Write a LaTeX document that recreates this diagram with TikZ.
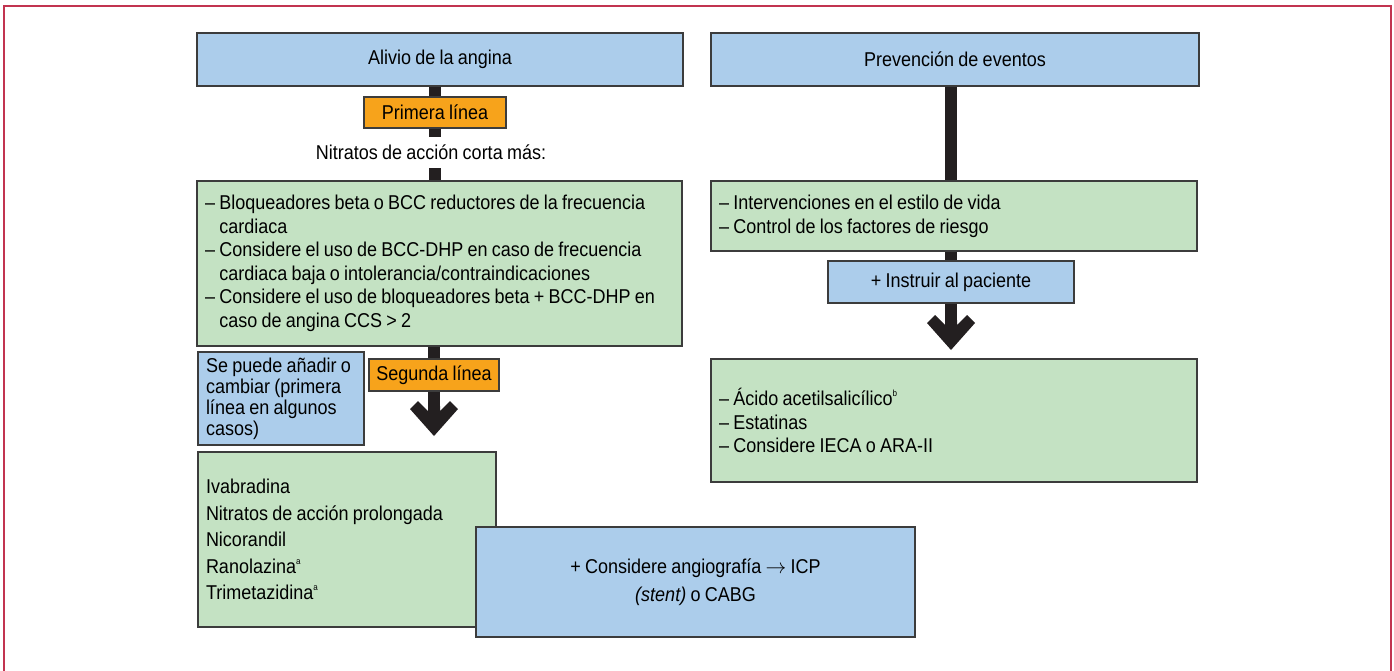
\documentclass[tikz,border=0pt]{standalone}
\usepackage{fontspec}
\setmainfont{Liberation Sans}[FakeStretch=0.9,WordSpace=0.85]
\definecolor{frameC}{RGB}{194,52,80}
\definecolor{blueC}{RGB}{172,205,235}
\definecolor{greenC}{RGB}{196,226,195}
\definecolor{orangeC}{RGB}{247,163,27}
\definecolor{stemC}{RGB}{35,31,32}
\definecolor{edgeC}{RGB}{60,60,60}
\newcommand\fsz[1]{\fontsize{20}{#1}\selectfont}
\newcommand\supr[1]{\raisebox{9pt}{\fontsize{9}{9}\selectfont #1}}
\begin{document}
\begin{tikzpicture}[x=1pt,y=-1pt,
  box/.style={draw=edgeC,line width=1.3pt,inner sep=0pt,align=center,font=\fsz{23.5}},
  bluebox/.style={box,fill=blueC},
  greenbox/.style={box,fill=greenC},
  orangebox/.style={box,fill=orangeC},
  listbox/.style={inner xsep=8pt,inner ysep=0pt,align=flush left},
  stem/.style={draw=stemC,line width=12.5pt},
  framestyle/.style={draw=frameC,line width=1.6pt},
  pics/chevron/.style={code={\fill[stemC] (0,0) -- (-24,-27) -- (-16,-35) -- (-6,-25) -- (-6,-30) -- (6,-30) -- (6,-25) -- (16,-35) -- (24,-27) -- cycle;}}]
\useasboundingbox (0,0) rectangle (1394,670);
\draw[framestyle] (4,672) -- (4,6) -- (1391,6) -- (1391,672);

% left column
\node[bluebox,minimum width=486pt,minimum height=53pt] (alivio) at (440,59.5) {Alivio de la angina};
\node[orangebox,minimum width=142pt,minimum height=31pt] (primera) at (435,112.5) {Primera línea};
\node[font=\fsz{23.5},inner sep=0pt,minimum height=31pt] (nitratos) at (431,152.5) {Nitratos de acción corta más:};
\node[greenbox,listbox,text width=469pt,minimum height=165pt] (green1) at (439.5,263.5) {%
– Bloqueadores beta o BCC reductores de la frecuencia\\
\hphantom{– }cardiaca\\
– Considere el uso de BCC-DHP en caso de frecuencia\\
\hphantom{– }cardiaca baja o intolerancia/contraindicaciones\\
– Considere el uso de bloqueadores beta + BCC-DHP en\\
\hphantom{– }caso de angina CCS > 2};
\node[bluebox,listbox,font=\fsz{21},text width=150pt,minimum height=93pt] (cambiar) at (281,398.5) {%
Se puede añadir o\\cambiar (primera\\línea en algunos\\casos)};
\node[orangebox,minimum width=130pt,minimum height=32pt] (segunda) at (434,375) {Segunda línea};
\node[greenbox,listbox,font=\fsz{26.5},text width=282pt,minimum height=175pt] (green4) at (347,539.5) {%
Ivabradina\\Nitratos de acción prolongada\\Nicorandil\\Ranolazina\supr{a}\\Trimetazidina\supr{a}};
\node[bluebox,font=\fsz{28},minimum width=439pt,minimum height=110pt] (angio) at (695.5,582) {%
+ Considere angiografía $\rightarrow$ ICP\\\textit{(stent)} o CABG};

% right column
\node[bluebox,minimum width=488pt,minimum height=53pt] (prev) at (955,59.5) {Prevención de eventos};
\node[greenbox,listbox,font=\fsz{24},text width=470pt,minimum height=70pt] (green2) at (954,216) {%
– Intervenciones en el estilo de vida\\– Control de los factores de riesgo};
\node[bluebox,minimum width=246pt,minimum height=42pt] (instruir) at (951,282) {+ Instruir al paciente};
\node[greenbox,listbox,text width=470pt,minimum height=123pt] (green3) at (954,420.5) {%
– Ácido acetilsalicílico\supr{b}\\– Estatinas\\– Considere IECA o ARA-II};

% connectors
\coordinate (tipL) at (434,436);
\coordinate (neckL) at (434,414);
\coordinate (tipR) at (951,350);
\coordinate (neckR) at (951,328);
\draw[stem] (alivio.south -| primera.north) -- (primera.north);
\draw[stem] (primera.south) -- (nitratos.north -| primera.south);
\draw[stem] (nitratos.south -| primera.south) -- (green1.north -| primera.south);
\draw[stem] (green1.south -| segunda.north) -- (segunda.north);
\draw[stem] (segunda.south) -- (neckL);
\pic at (tipL) {chevron};
\draw[stem] (prev.south -| instruir.north) -- (green2.north -| instruir.north);
\draw[stem] (green2.south -| instruir.north) -- (instruir.north);
\draw[stem] (instruir.south) -- (neckR);
\pic at (tipR) {chevron};
\end{tikzpicture}
\end{document}
